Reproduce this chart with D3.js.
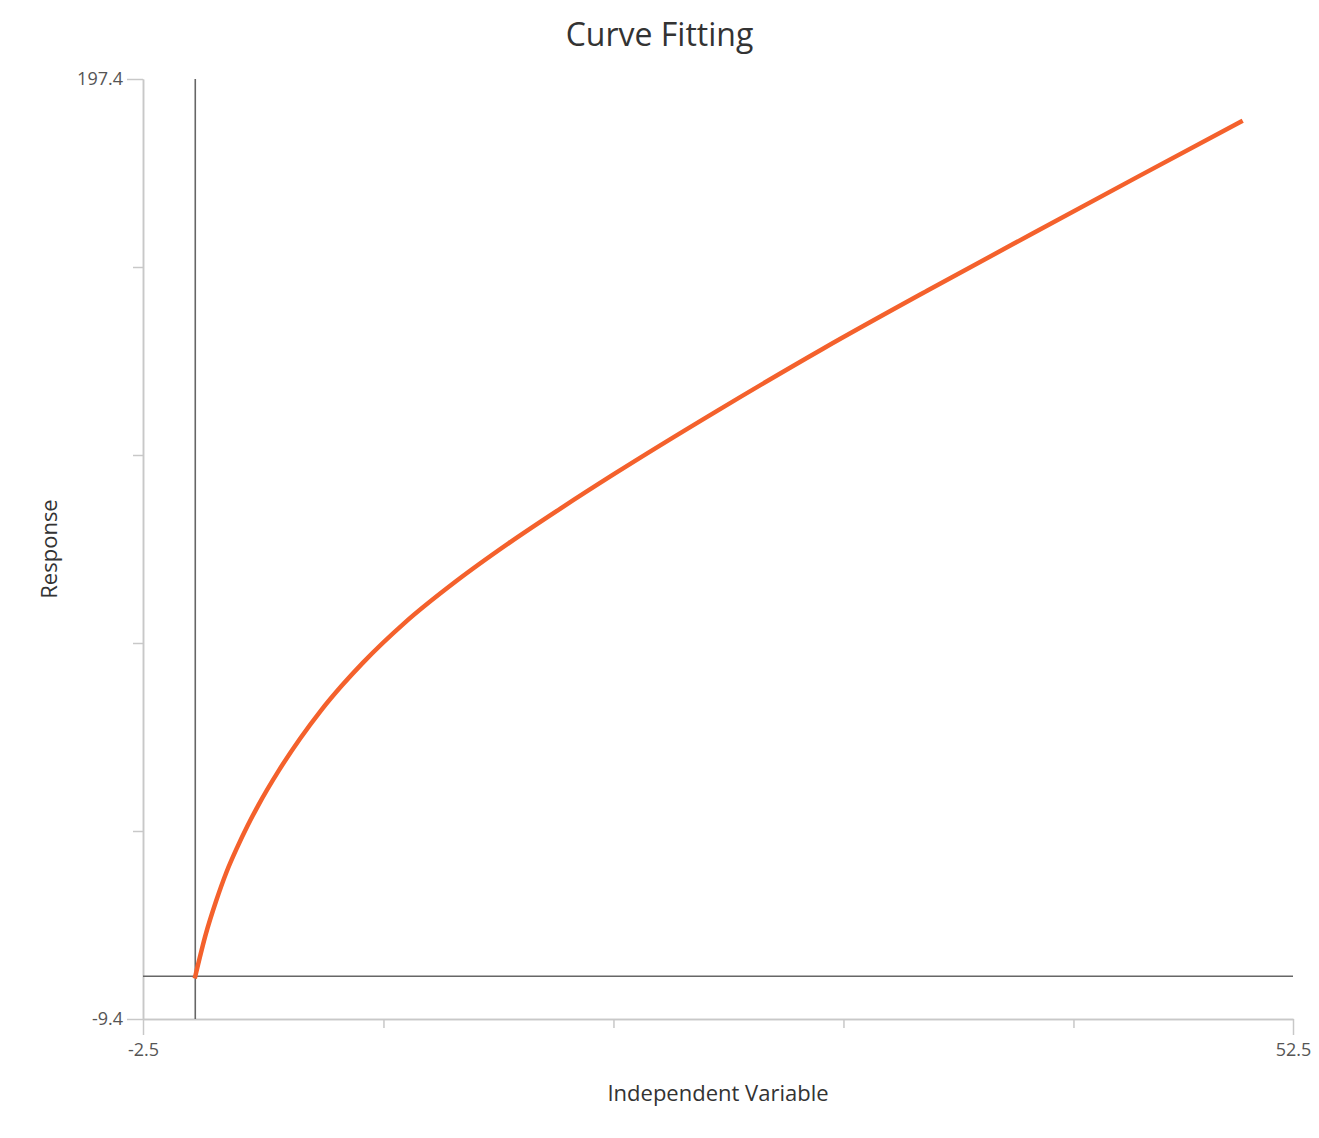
<!DOCTYPE html>
<html>
<head>
<meta charset="utf-8">
<script src="https://cdn.jsdelivr.net/npm/d3@7"></script>
<style>
    body { margin: 0; background: #fff; }
    text { font-family: "Open Sans", "Noto Sans", sans-serif; }
</style>
</head>
<body>
<div id="mychart"></div>
<script>
// values
const xValues = [0, 0.5, 1, 1.5, 2, 2.5, 3, 4, 5, 6, 7, 8, 10, 12.5, 15, 17.5, 20, 25, 30, 35, 40, 45, 50];
const yValues = [0, 9.2, 16.6, 23.0, 28.3, 33.1, 37.5, 45.3, 52.2, 58.4, 63.9, 68.9, 77.7, 87.0, 95.3, 103.0, 110.4, 124.5, 138.0, 150.8, 163.3, 175.7, 188.0];

const xDomain = [-2.5, 52.5];
const yDomain = [-9.4, 197.4];
const xTicks = [-2.5, 9, 20, 31, 42, 52.5];
const yTicks = [-9.4, 31.96, 73.32, 114.68, 156.04, 197.4];

const width = 1319;
const height = 1138;
const margin = { top: 79, right: 26, bottom: 119, left: 143 };
const innerW = width - margin.left - margin.right;
const innerH = height - margin.top - margin.bottom;

const svg = d3.select("#mychart")
    .append("svg")
    .attr("width", width)
    .attr("height", height);

const g = svg.append("g")
    .attr("transform", `translate(${margin.left},${margin.top})`);

const x = d3.scaleLinear().domain(xDomain).range([0, innerW]);
const y = d3.scaleLinear().domain(yDomain).range([innerH, 0]);

function isEnd(v, dom) { return v === dom[0] || v === dom[1]; }

// inner ticks, short, no labels
const xAxisMinor = g.append("g")
    .attr("transform", `translate(0,${innerH})`)
    .call(d3.axisBottom(x).tickValues(xTicks.filter(v => !isEnd(v, xDomain))).tickSize(9).tickSizeOuter(0).tickFormat(""));
const yAxisMinor = g.append("g")
    .call(d3.axisLeft(y).tickValues(yTicks.filter(v => !isEnd(v, yDomain))).tickSize(10).tickSizeOuter(0).tickFormat(""));

// end ticks with labels
const xAxisEnd = g.append("g")
    .attr("transform", `translate(0,${innerH})`)
    .call(d3.axisBottom(x).tickValues(xDomain).tickSize(16).tickSizeOuter(0).tickPadding(8).tickFormat(d => d));
const yAxisEnd = g.append("g")
    .call(d3.axisLeft(y).tickValues(yDomain).tickSize(16).tickSizeOuter(0).tickPadding(4).tickFormat(d => d));

[xAxisMinor, yAxisMinor, xAxisEnd, yAxisEnd].forEach(a => {
    a.select(".domain").attr("stroke", "#c8c8c8").attr("stroke-width", 1.5);
    a.selectAll(".tick line").attr("stroke", "#c8c8c8").attr("stroke-width", 1.5);
    a.selectAll(".tick text")
        .attr("fill", "#555")
        .style("font-size", "18px")
        .style("font-family", "'Open Sans', sans-serif");
});

// zero lines
g.append("line")
    .attr("x1", x(0)).attr("x2", x(0))
    .attr("y1", 0).attr("y2", innerH)
    .attr("stroke", "#666").attr("stroke-width", 1.6);
g.append("line")
    .attr("x1", 0).attr("x2", innerW)
    .attr("y1", y(0)).attr("y2", y(0))
    .attr("stroke", "#666").attr("stroke-width", 1.6);

// fitted curve
const points = xValues.map((xv, i) => [xv, yValues[i]]);
const line = d3.line()
    .x(d => x(d[0]))
    .y(d => y(d[1]))
    .curve(d3.curveMonotoneX);

g.append("path")
    .datum(points)
    .attr("d", line)
    .attr("fill", "none")
    .attr("stroke", "#f4612c")
    .attr("stroke-width", 4.5)
    .attr("stroke-linecap", "square");

// title and axis labels
svg.append("text")
    .attr("x", width / 2)
    .attr("y", 46)
    .attr("text-anchor", "middle")
    .attr("fill", "#333")
    .style("font-size", "32px")
    .text("Curve Fitting");

svg.append("text")
    .attr("x", margin.left + innerW / 2)
    .attr("y", 1101)
    .attr("text-anchor", "middle")
    .attr("fill", "#333")
    .style("font-size", "22px")
    .text("Independent Variable");

svg.append("text")
    .attr("transform", `translate(57,${margin.top + innerH / 2}) rotate(-90)`)
    .attr("text-anchor", "middle")
    .attr("fill", "#333")
    .style("font-size", "22px")
    .text("Response");
</script>
</body>
</html>
